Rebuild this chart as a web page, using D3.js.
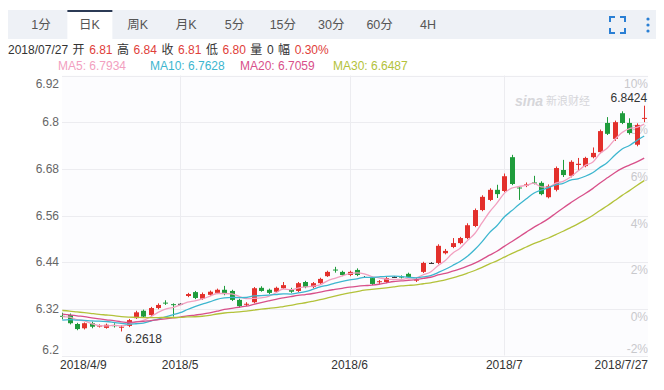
<!DOCTYPE html>
<html><head><meta charset="utf-8">
<script src="https://cdn.jsdelivr.net/npm/d3@7"></script>
<style>
html,body{margin:0;padding:0;background:#fff;}
svg{display:block;font-family:Arial,"Liberation Sans","Noto Sans CJK SC",sans-serif;}
</style></head>
<body><svg id="c" width="664" height="390"></svg>
<script>
// ---------- data ----------
const dates = ["2018-04-09","2018-04-10","2018-04-11","2018-04-12","2018-04-13","2018-04-16","2018-04-17","2018-04-18","2018-04-19","2018-04-20",
"2018-04-23","2018-04-24","2018-04-25","2018-04-26","2018-04-27","2018-04-30","2018-05-01","2018-05-02","2018-05-03","2018-05-04",
"2018-05-07","2018-05-08","2018-05-09","2018-05-10","2018-05-11","2018-05-14","2018-05-15","2018-05-16","2018-05-17","2018-05-18",
"2018-05-21","2018-05-22","2018-05-23","2018-05-24","2018-05-25","2018-05-28","2018-05-29","2018-05-30","2018-05-31","2018-06-01",
"2018-06-04","2018-06-05","2018-06-06","2018-06-07","2018-06-08","2018-06-11","2018-06-12","2018-06-13","2018-06-14","2018-06-15",
"2018-06-18","2018-06-19","2018-06-20","2018-06-21","2018-06-22","2018-06-25","2018-06-26","2018-06-27","2018-06-28","2018-06-29",
"2018-07-02","2018-07-03","2018-07-04","2018-07-05","2018-07-06","2018-07-09","2018-07-10","2018-07-11","2018-07-12","2018-07-13",
"2018-07-16","2018-07-17","2018-07-18","2018-07-19","2018-07-20","2018-07-23","2018-07-24","2018-07-25","2018-07-26","2018-07-27"];
const open  = [6.302,6.304,6.281,6.270,6.283,6.275,6.271,6.278,6.272,6.276,6.296,6.315,6.304,6.322,6.336,6.332,6.333,6.353,6.363,6.346,
6.356,6.361,6.369,6.366,6.343,6.331,6.337,6.374,6.369,6.364,6.373,6.371,6.366,6.389,6.376,6.386,6.404,6.421,6.415,6.407,
6.420,6.402,6.399,6.389,6.389,6.402,6.403,6.410,6.393,6.415,6.438,6.438,6.463,6.479,6.489,6.502,6.533,6.574,6.600,6.626,
6.623,6.710,6.632,6.637,6.645,6.644,6.607,6.626,6.677,6.662,6.690,6.687,6.710,6.723,6.798,6.757,6.823,6.798,6.742,6.809];
const high  = [6.310,6.308,6.284,6.285,6.287,6.280,6.282,6.283,6.278,6.294,6.315,6.318,6.325,6.334,6.342,6.334,6.334,6.361,6.366,6.362,
6.367,6.372,6.379,6.369,6.346,6.337,6.376,6.378,6.372,6.377,6.389,6.374,6.389,6.392,6.389,6.400,6.418,6.428,6.418,6.418,
6.424,6.404,6.402,6.394,6.402,6.404,6.406,6.413,6.399,6.441,6.440,6.486,6.474,6.502,6.505,6.540,6.578,6.612,6.630,6.639,
6.668,6.716,6.635,6.645,6.662,6.648,6.640,6.686,6.703,6.702,6.708,6.711,6.735,6.781,6.813,6.804,6.828,6.810,6.797,6.8424];
const low   = [6.293,6.280,6.265,6.267,6.270,6.272,6.269,6.272,6.2618,6.273,6.294,6.297,6.301,6.319,6.330,6.300,6.332,6.350,6.345,6.343,
6.353,6.358,6.355,6.340,6.323,6.327,6.334,6.364,6.358,6.361,6.371,6.361,6.363,6.373,6.373,6.384,6.402,6.413,6.404,6.404,
6.404,6.400,6.381,6.384,6.386,6.400,6.398,6.399,6.389,6.412,6.436,6.435,6.460,6.476,6.486,6.499,6.530,6.571,6.597,6.605,
6.620,6.638,6.600,6.633,6.640,6.612,6.604,6.622,6.659,6.658,6.677,6.684,6.707,6.720,6.767,6.752,6.795,6.768,6.738,6.800];
const close = [6.300,6.283,6.268,6.283,6.274,6.277,6.279,6.276,6.274,6.291,6.311,6.300,6.322,6.330,6.334,6.330,6.333,6.358,6.348,6.358,
6.364,6.369,6.358,6.343,6.327,6.333,6.373,6.366,6.361,6.374,6.381,6.364,6.386,6.376,6.386,6.397,6.415,6.419,6.407,6.415,
6.407,6.402,6.384,6.391,6.399,6.402,6.401,6.402,6.395,6.438,6.438,6.482,6.469,6.489,6.502,6.535,6.574,6.608,6.626,6.615,
6.661,6.641,6.630,6.640,6.643,6.615,6.636,6.682,6.664,6.698,6.693,6.708,6.721,6.777,6.770,6.800,6.798,6.772,6.793,6.811];
// closes of the 29 sessions before 2018-04-09 (estimated; only used for the moving averages)
const priorCloses = [6.33,6.33,6.34,6.34,6.34,6.33,6.33,6.34,6.33,6.33,6.32,6.32,6.33,6.33,6.33,6.33,6.32,6.33,6.32,
6.29,6.27,6.28,6.29,6.29,6.28,6.29,6.30,6.30,6.31];
const maPeriods = [5,10,20,30];
const maLegend = ["MA5: 6.7934","MA10: 6.7628","MA20: 6.7059","MA30: 6.6487"];
const priceTicks = [6.2,6.32,6.44,6.56,6.68,6.8,6.92];
const pctTicks = [-2,0,2,4,6,8,10];
const monthTicks = ["2018-05-01","2018-06-01","2018-07-02"];
const monthLabels = ["2018/5","2018/6","2018/7"];
const tabs = ["1分","日K","周K","月K","5分","15分","30分","60分","4H"];
const infoParts = [["2018/07/27 ","#333"],["开 ","#333"],["6.81","#e0403a"],[" 高 ","#333"],["6.84","#e0403a"],[" 收 ","#333"],["6.81","#e0403a"],
[" 低 ","#333"],["6.80","#e0403a"],[" 量 ","#333"],["0","#333"],[" 幅 ","#333"],["0.30%","#e0403a"]];

// ---------- styles ----------
const UP="#e3302c", DOWN="#1f9c3c", FLAT="#333";
const maColors=["#f2a0c0","#3db6cf","#d8508a","#b3c23a"];

const svg=d3.select("#c");
// tab bar
svg.append("rect").attr("x",8).attr("y",10).attr("width",648).attr("height",29).attr("fill","#eef1f6");
const tabX=d3.scalePoint().domain(tabs).range([41,428]);
svg.append("rect").attr("x",tabX("日K")-22).attr("y",10).attr("width",45).attr("height",29).attr("fill","#fff");
svg.append("rect").attr("x",tabX("日K")-22).attr("y",10).attr("width",45).attr("height",2).attr("fill","#2b3a55");
svg.selectAll("text.tab").data(tabs).join("text").attr("class","tab")
  .attr("x",d=>tabX(d)).attr("y",25).attr("text-anchor","middle").attr("dominant-baseline","central")
  .attr("font-size",12.5).attr("fill","#555").text(d=>d);
// icons
const ic=svg.append("g").attr("stroke","#2a7fd4").attr("stroke-width",2).attr("fill","none");
ic.append("path").attr("d","M610,22v-5h5 M620,17h5v5 M625,28v5h-5 M615,33h-5v-5");
svg.selectAll("circle.dot").data([0,1,2]).join("circle").attr("cx",648).attr("cy",d=>19+d*6).attr("r",1.6).attr("fill","#2a7fd4");

// info line
const info=svg.append("text").attr("x",8).attr("y",50).attr("font-size",12).attr("word-spacing",1.2)
  .attr("dominant-baseline","central").style("white-space","pre");
info.selectAll("tspan").data(infoParts).join("tspan").attr("fill",d=>d[1]).text(d=>d[0]);
// MA legend
const legX=[58,150,240,333];
svg.selectAll("text.leg").data(maLegend).join("text").attr("class","leg")
  .attr("x",(d,i)=>legX[i]).attr("y",66).attr("font-size",12).attr("dominant-baseline","central")
  .attr("fill",(d,i)=>maColors[i]).text(d=>d);

// scales
const L=62, R=648, T=75.5, B=355.5;
const x=d3.scaleBand().domain(dates).range([58.6,647.9]);
const cx=d=>x(d)+x.bandwidth()/2;
const y=d3.scaleLinear().domain([6.2,6.92]).range([B,T]);
const yp=d3.scaleLinear().domain([-2,10]).range([B,T]);

// background + grid
svg.append("rect").attr("x",L).attr("y",T).attr("width",R-L).attr("height",B-T).attr("fill","#fcfcfe");
svg.selectAll("line.hg").data(priceTicks).join("line").attr("class","hg")
  .attr("x1",L).attr("x2",R).attr("y1",d=>Math.round(y(d))+0.5).attr("y2",d=>Math.round(y(d))+0.5)
  .attr("stroke","#ececf0");
svg.selectAll("line.vg").data(monthTicks).join("line").attr("class","vg")
  .attr("x1",d=>Math.round(cx(d))+0.5).attr("x2",d=>Math.round(cx(d))+0.5).attr("y1",T).attr("y2",B)
  .attr("stroke","#ececf0");

// y labels
svg.selectAll("text.yl").data(priceTicks).join("text").attr("class","yl")
  .attr("x",59).attr("y",d=>y(d)+(d===6.92?8:d===6.2?-6:0)).attr("text-anchor","end").attr("dominant-baseline","central")
  .attr("font-size",12).attr("fill","#666").text(d=>d3.format("")(d));
svg.selectAll("text.pl").data(pctTicks).join("text").attr("class","pl")
  .attr("x",648).attr("y",d=>yp(d)+(d===-2?-7:8)).attr("text-anchor","end").attr("dominant-baseline","central")
  .attr("font-size",12).attr("fill","#c8c8cc").text(d=>d+"%");

// x labels
svg.append("text").attr("x",60).attr("y",365).attr("font-size",12).attr("fill","#333").attr("dominant-baseline","central")
  .text("2018/4/9");
svg.selectAll("text.ml").data(monthTicks).join("text").attr("class","ml")
  .attr("x",d=>cx(d)).attr("y",365).attr("text-anchor","middle").attr("dominant-baseline","central")
  .attr("font-size",12).attr("fill","#333").text((d,i)=>monthLabels[i]);
svg.append("text").attr("x",648).attr("y",365).attr("text-anchor","end").attr("font-size",12).attr("fill","#333")
  .attr("dominant-baseline","central").text("2018/7/27");

// watermark
const wm=svg.append("text").attr("x",515).attr("y",101).attr("dominant-baseline","central").attr("fill","#d6d6da");
wm.append("tspan").attr("font-size",14).attr("font-weight","bold").attr("font-style","italic").text("sina");
wm.append("tspan").attr("font-size",11).attr("dx",3).text("新浪财经");

// candles
const data=dates.map((d,i)=>({d,o:open[i],h:high[i],l:low[i],c:close[i]}));
const col=k=>k.c>k.o?UP:(k.c<k.o?DOWN:FLAT);
const g=svg.append("g");
g.selectAll("line.w").data(data).join("line")
  .attr("x1",k=>Math.round(cx(k.d))+0.5).attr("x2",k=>Math.round(cx(k.d))+0.5)
  .attr("y1",k=>y(k.h)).attr("y2",k=>y(k.l)).attr("stroke",col).attr("stroke-width",1);
g.selectAll("rect.b").data(data).join("rect")
  .attr("x",k=>Math.round(cx(k.d))-2).attr("width",5)
  .attr("y",k=>y(Math.max(k.o,k.c))).attr("height",k=>Math.max(1,Math.abs(y(k.o)-y(k.c))))
  .attr("fill",col);

// moving averages
const all=priorCloses.concat(close);
const off=priorCloses.length;
maPeriods.forEach((n,j)=>{
  const vals=close.map((c,i)=>d3.mean(all.slice(off+i-n+1,off+i+1)));
  svg.append("path").datum(vals).attr("fill","none").attr("stroke",maColors[j]).attr("stroke-width",1.3)
    .attr("d",d3.line().x((v,i)=>cx(dates[i])).y(v=>y(v)).curve(d3.curveMonotoneX));
});

// min / max annotations
const iMin=d3.minIndex(low), iMax=d3.maxIndex(high);
svg.append("text").attr("x",cx(dates[iMin])+4).attr("y",y(low[iMin])+8).attr("font-size",12).attr("fill","#333")
  .attr("dominant-baseline","central").text(low[iMin].toFixed(4));
svg.append("text").attr("x",cx(dates[iMax])+3).attr("y",y(high[iMax])-8).attr("font-size",12).attr("fill","#333")
  .attr("text-anchor","end").attr("dominant-baseline","central").text(high[iMax].toFixed(4));
</script></body></html>
